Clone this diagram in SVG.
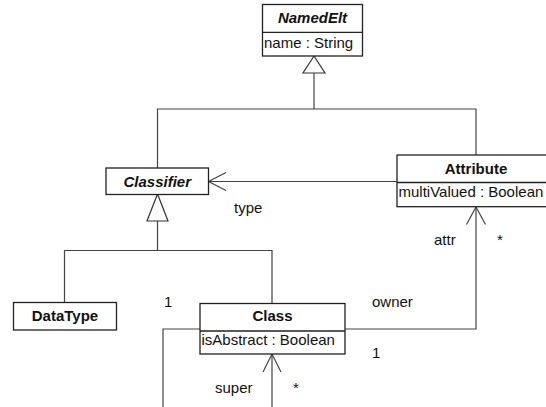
<svg xmlns="http://www.w3.org/2000/svg" width="546" height="407" viewBox="0 0 546 407">
<style>
.box{fill:#fff;stroke:#222;stroke-width:1.3}
.div{stroke:#222;stroke-width:1.3}
.con{fill:none;stroke:#444;stroke-width:1.2}
.tri{fill:#fff;stroke:#333;stroke-width:1.2}
text{font-family:"Liberation Sans",Arial,sans-serif;font-size:15px;fill:#111}
.t{font-weight:bold;text-anchor:middle}
.ab{font-style:italic}
.lbl{fill:#111}
</style>
<rect width="546" height="407" fill="#fff"/>
<g id="connectors">
  <!-- generalization tree NamedElt -->
  <polyline class="con" points="157.5,168 157.5,109 476,109 476,155"/>
  <line class="con" x1="314" y1="73" x2="314" y2="109"/>
  <polygon class="tri" points="314,56 303,73 325,73"/>
  <!-- generalization tree Classifier -->
  <polyline class="con" points="64.5,302 64.5,250.5 272,250.5 272,303"/>
  <line class="con" x1="157.5" y1="221" x2="157.5" y2="250.5"/>
  <polygon class="tri" points="157.5,194 147,221 168,221"/>
  <!-- type association -->
  <line class="con" x1="397" y1="181.5" x2="208.5" y2="181.5"/>
  <polyline class="con" points="226,172.5 208.5,181.5 226,190.5"/>
  <!-- owner/attr association -->
  <polyline class="con" points="345,329 476,329 476,207"/>
  <polyline class="con" points="466.5,224.5 476,207 485.5,224.5"/>
  <!-- super self association -->
  <polyline class="con" points="200,329 163,329 163,410"/>
  <line class="con" x1="272" y1="410" x2="272" y2="354"/>
  <polyline class="con" points="263,372 272,354 281,372"/>
  <text class="lbl" x="234" y="213">type</text>
  <text class="lbl" x="434" y="245">attr</text>
  <text class="lbl" x="497" y="245">*</text>
  <text class="lbl" x="372" y="307">owner</text>
  <text class="lbl" x="372" y="358">1</text>
  <text class="lbl" x="164" y="307">1</text>
  <text class="lbl" x="215" y="393">super</text>
  <text class="lbl" x="293" y="393">*</text>
</g>
<g id="NamedElt">
  <rect class="box" x="262.5" y="4.5" width="100" height="51.5"/>
  <line class="div" x1="262.5" y1="32.3" x2="362.5" y2="32.3"/>
  <text class="t ab" x="312.5" y="23">NamedElt</text>
  <text x="264" y="48">name : String</text>
</g>
<g id="Classifier">
  <rect class="box" x="106" y="168" width="102.5" height="26.5"/>
  <text class="t ab" x="157.3" y="186.5">Classifier</text>
</g>
<g id="Attribute">
  <rect class="box" x="397" y="155" width="158" height="51.7"/>
  <line class="div" x1="397" y1="182.5" x2="555" y2="182.5"/>
  <text class="t" x="476" y="173.5">Attribute</text>
  <text x="398.5" y="197">multiValued : Boolean</text>
</g>
<g id="DataType">
  <rect class="box" x="13.5" y="302.5" width="103" height="27.5"/>
  <text class="t" x="65" y="320.5">DataType</text>
</g>
<g id="Class">
  <rect class="box" x="200" y="303.5" width="145" height="50.5"/>
  <line class="div" x1="200" y1="331" x2="345" y2="331"/>
  <text class="t" x="272.5" y="321">Class</text>
  <text x="201.5" y="345">isAbstract : Boolean</text>
</g>
</svg>
